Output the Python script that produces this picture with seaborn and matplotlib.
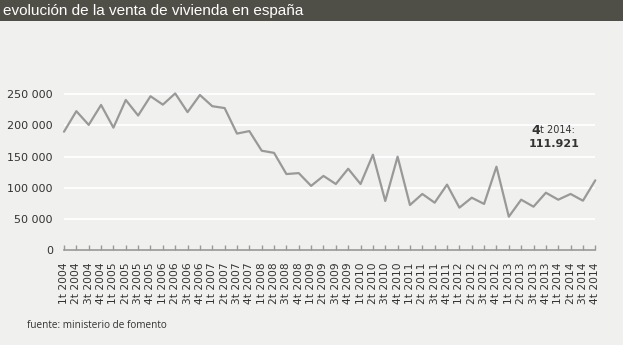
import matplotlib
matplotlib.use("Agg")
import matplotlib.pyplot as plt
import seaborn as sns
import pandas as pd
from matplotlib.ticker import FuncFormatter

quarters = [f"{q}t {y}" for y in range(2004, 2015) for q in (1, 2, 3, 4)]
ventas = [190000, 223000, 201000, 233000, 196500, 241000, 216000, 247000,
          233500, 251500, 221500, 249000, 231000, 228000, 187000, 191000,
          159500, 156000, 122000, 123500, 103000, 119000, 106000, 130500,
          106000, 153000, 78700, 149900, 72300, 90000, 76000, 105000,
          68000, 84000, 74000, 133800, 53500, 80800, 69600, 92000,
          80800, 90000, 79200, 111921]
y_ticks = [0, 50000, 100000, 150000, 200000, 250000]
title = "evolución de la venta de vivienda en españa"
source = "fuente: ministerio de fomento"
last_label = "111.921"

bg = "#f0f1ee"
sns.set_theme(style="white", rc={"axes.facecolor": bg, "figure.facecolor": bg})
plt.rcParams['font.family'] = ['DejaVu Sans']

df = pd.DataFrame({"idx": range(len(quarters)), "ventas": ventas})

fig = plt.figure(figsize=(6.23, 3.45), dpi=100)
ax = fig.add_axes([64/623, 1-250/345, (595.3-64)/623, (250-78.8)/345])

for v in y_ticks[1:]:
    ax.axhline(v, color="white", lw=1.3, zorder=1)

sns.lineplot(data=df, x="idx", y="ventas", ax=ax, color="#999999", lw=1.6,
             zorder=3, clip_on=False)

ax.set_xlim(0, len(quarters) - 1)
ax.set_ylim(0, 275000)
ax.set_xticks(range(len(quarters)))
ax.set_xticklabels(quarters, rotation=90, fontsize=7.7, color="#333333")
ax.set_yticks(y_ticks)
ax.yaxis.set_major_formatter(FuncFormatter(lambda v, p: f"{int(v):,}".replace(",", " ")))
ax.tick_params(axis="y", length=0, pad=8, labelsize=8, labelcolor="#333333")
ax.tick_params(axis="x", direction="in", length=3.3, width=1, color="#999999", pad=9)
ax.xaxis.set_ticks_position("bottom")
ax.set_xlabel("")
ax.set_ylabel("")
for s in ["top", "right", "left"]:
    ax.spines[s].set_visible(False)
ax.spines["bottom"].set_color("#999999")
ax.spines["bottom"].set_linewidth(1.2)
ax.grid(False)

# annotation
fig.text(540/623, 1-130/345, "4", fontsize=9, fontweight="bold", color="#333333",
         ha="right", va="center")
fig.text(540.5/623, 1-130/345, "t 2014:", fontsize=7, color="#333333", ha="left", va="center")
fig.text(554/623, 1-144/345, last_label, fontsize=8, fontweight="bold", color="#333333",
         ha="center", va="center")

# title bar
fig.patches.append(plt.Rectangle((0, 1-20.5/345), 1, 20.5/345, transform=fig.transFigure,
                                 facecolor="#504f47", edgecolor="none", zorder=0))
fig.text(3/623, 1-10.5/345, title, fontsize=11, color="white", ha="left", va="center",
         family=["Liberation Sans"])

fig.text(27/623, 1-325/345, source, fontsize=7.2, color="#333333", ha="left", va="center",
         family=["Open Sans"])

fig.savefig("out.png", dpi=100, facecolor=bg)
